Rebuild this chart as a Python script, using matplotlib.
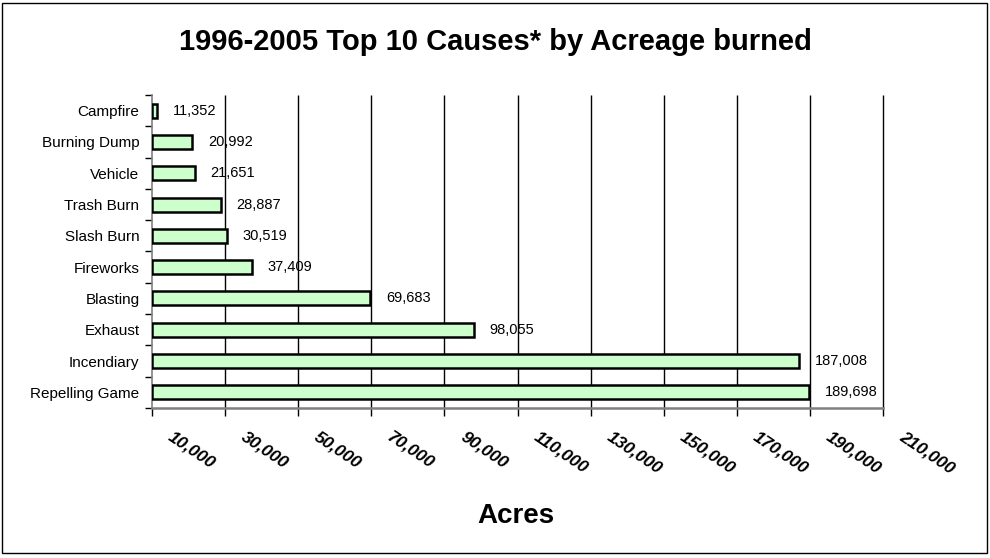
import matplotlib
matplotlib.use("Agg")
import matplotlib.pyplot as plt
from matplotlib.patches import Rectangle
from matplotlib.transforms import ScaledTranslation
import numpy as np

causes = ["Campfire", "Burning Dump", "Vehicle", "Trash Burn", "Slash Burn",
          "Fireworks", "Blasting", "Exhaust", "Incendiary", "Repelling Game"]
acres = [11352, 20992, 21651, 28887, 30519, 37409, 69683, 98055, 187008, 189698]
tick_values = list(range(10000, 210001, 20000))
tick_labels = [f"{v:,}" for v in tick_values]

plt.rcParams['font.family'] = ['Liberation Sans', 'DejaVu Sans']

fig = plt.figure(figsize=(9.9, 5.58), dpi=100)
fig.patches.append(Rectangle((2 / 990, 5 / 558), 985 / 990, 550 / 558,
                             transform=fig.transFigure, fill=False,
                             edgecolor='black', linewidth=1.0))

ax = fig.add_axes([152 / 990, 1 - 408 / 558, (883 - 152) / 990, (408 - 95) / 558])

y = np.arange(len(causes))
ax.barh(y, [a - 10000 for a in acres], left=10000, height=0.45,
        color='#CCFFCC', edgecolor='black', linewidth=1.8, zorder=3)

for yi, a in zip(y, acres):
    ax.text(a + 4300, yi, f"{a:,}", va='center', ha='left', fontsize=10.5,
            color='black', zorder=4)

ax.set_xlim(10000, 210000)
ax.set_ylim(len(causes) - 0.5, -0.5)

ax.set_yticks(y)
ax.set_yticklabels(causes, fontsize=11)
ax.tick_params(axis='y', which='major', length=0, pad=9)
ax.set_yticks(np.arange(-0.5, len(causes)), minor=True)
ax.tick_params(axis='y', which='minor', length=5, width=1, color='black', direction='out')

ax.set_xticks(tick_values)
ax.set_xticklabels(tick_labels, rotation=-34, ha='left', va='top',
                   rotation_mode='anchor', fontsize=12.5, fontweight='bold',
                   fontstyle='italic')
ax.tick_params(axis='x', length=6, width=1, color='black', direction='out', pad=9)
shift = ScaledTranslation(22 / 100, 0, fig.dpi_scale_trans)
for lbl in ax.get_xticklabels():
    lbl.set_transform(lbl.get_transform() + shift)

# vertical gridlines, drawn unclipped so the last one at the right edge shows fully
ax.vlines(tick_values[1:], -0.5, len(causes) - 0.5, colors='black',
          linewidth=1.0, zorder=1, clip_on=False)

for s in ('top', 'right'):
    ax.spines[s].set_visible(False)
ax.spines['bottom'].set_color('#808080')
ax.spines['bottom'].set_linewidth(1.8)
ax.spines['bottom'].set_zorder(5)
ax.spines['left'].set_color('#808080')
ax.spines['left'].set_linewidth(1.2)

fig.text(495 / 990, 1 - 42 / 558, "1996-2005 Top 10 Causes* by Acreage burned",
         ha='center', va='center', fontsize=21, fontweight='bold')
fig.text(516 / 990, 1 - 516 / 558, "Acres", ha='center', va='center',
         fontsize=20, fontweight='bold')

fig.savefig("out.png", dpi=100)
